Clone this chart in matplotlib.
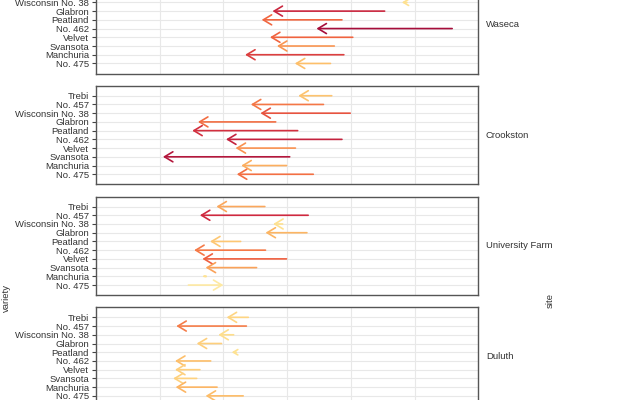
import matplotlib
matplotlib.use("Agg")
import matplotlib.pyplot as plt
from matplotlib.colors import LinearSegmentedColormap, Normalize

plt.rcParams['font.family'] = ['Liberation Sans', 'DejaVu Sans']

# varieties, top to bottom in every panel
varieties = ["Trebi", "No. 457", "Wisconsin No. 38", "Glabron", "Peatland",
             "No. 462", "Velvet", "Svansota", "Manchuria", "No. 475"]

sites = ["Waseca", "Crookston", "University Farm", "Duluth"]

# yield in 1931 (arrow tail) and 1932 (arrow head), same order as varieties
waseca_1931 = [63.8, 58.1, 58.8, 55.3, 48.6, 65.9, 50.3, 47.4, 48.9, 46.8]
waseca_1932 = [49.2, 42.2, 58.0, 37.7, 36.0, 44.6, 37.3, 38.4, 33.4, 41.2]

crookston_1931 = [47.0, 45.7, 49.9, 38.2, 41.65, 48.6, 41.3, 40.4, 39.9, 44.1]
crookston_1932 = [41.75, 34.3, 35.8, 26.0, 25.1, 30.4, 31.9, 20.5, 32.8, 32.1]

univ_1931 = [36.5, 43.3, 39.3, 43.1, 32.7, 36.6, 39.9, 35.2, 27.0, 24.5]
univ_1932 = [28.9, 26.3, 37.8, 36.6, 27.9, 25.4, 26.7, 27.2, 26.9, 30.0]

duluth_1931 = [33.9, 33.6, 31.6, 29.7, 32.0, 28.0, 26.3, 25.8, 29.0, 33.1]
duluth_1932 = [30.5, 22.6, 29.2, 25.8, 31.3, 22.4, 22.4, 22.1, 22.5, 27.2]

y1931 = [waseca_1931, crookston_1931, univ_1931, duluth_1931]
y1932 = [waseca_1932, crookston_1932, univ_1932, duluth_1932]

# colour by drop from 1931 to 1932
cmap = LinearSegmentedColormap.from_list("drop", [
    (0.00, "#fee9a3"), (0.29, "#fee08e"), (0.43, "#fdbb66"),
    (0.57, "#f88a4c"), (0.68, "#f0623f"), (0.82, "#d02a3f"), (1.00, "#a00a3a")])
norm = Normalize(-6, 22)

fig = plt.figure(figsize=(6.4, 4), dpi=100)
W, H = 640.0, 400.0
left_px, right_px = 96.0, 478.3
panel_h = 98.6
tops = [85.7 - 110.8, 85.7, 85.7 + 110.8, 85.7 + 2 * 110.8]
pad = 1.15
px_per_unit = (right_px - left_px) / 60.0
head_px = 8.3

for k, site in enumerate(sites):
    top = tops[k]
    ax = fig.add_axes([left_px / W, 1 - (top + panel_h) / H,
                       (right_px - left_px) / W, panel_h / H])
    ax.set_xlim(10, 70)
    ax.set_ylim(len(varieties) - 1 + pad, -pad)
    ax.set_xticks([20, 30, 40, 50, 60])
    ax.set_yticks(range(len(varieties)))
    ax.set_yticklabels(varieties)
    ax.grid(True, color="#e8e8e8", linewidth=0.8)
    ax.set_axisbelow(True)
    ax.tick_params(axis="x", length=0, labelbottom=False)
    ax.tick_params(axis="y", length=3, width=0.8, color="#444444",
                   labelsize=6.8, labelcolor="#333333", pad=2)
    for s in ax.spines.values():
        s.set_color("#555555")
        s.set_linewidth(1.0)

    for i, v in enumerate(varieties):
        a, b = y1931[k][i], y1932[k][i]
        col = cmap(norm(a - b))
        # short arrows get a smaller head
        f = min(1.0, abs(a - b) * px_per_unit / head_px)
        style = "->,head_length=%.3f,head_width=%.3f" % (0.6 * f, 0.36 * f)
        ax.annotate("", xy=(b, i), xytext=(a, i),
                    arrowprops=dict(arrowstyle=style, color=col, lw=1.2,
                                    shrinkA=0, shrinkB=0))

    fig.text(486 / W, 1 - (top + panel_h / 2) / H, site, fontsize=6.8,
             color="#333333", ha="left", va="center")

fig.text(6 / W, 1 - 298 / H, "variety", rotation=90, fontsize=6.8,
         color="#333333", ha="center", va="center")
fig.text(550 / W, 1 - 300 / H, "site", rotation=90, fontsize=6.8,
         color="#333333", ha="center", va="center")

fig.savefig("out.png", dpi=100)
